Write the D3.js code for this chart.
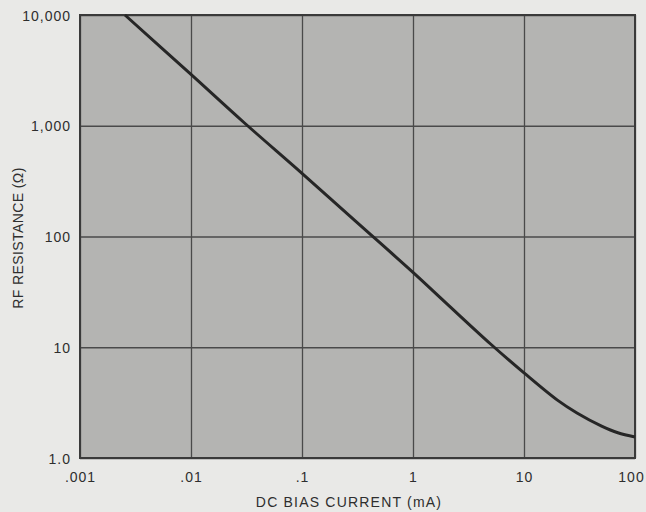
<!DOCTYPE html>
<html>
<head>
<meta charset="utf-8">
<script src="https://cdn.jsdelivr.net/npm/d3@7/dist/d3.min.js"></script>
<style>
  html, body { margin: 0; padding: 0; background: #e9e9e7; }
  svg { display: block; }
  text { font-family: "Liberation Sans", Arial, Helvetica, sans-serif; fill: #2e2e2e; }
</style>
</head>
<body>
<svg id="chart" width="646" height="512"></svg>
<script>
// Data (DC bias current in mA, RF resistance in ohms)
const currentMA = [0.00254, 0.01, 0.03, 0.1, 0.3, 1, 2, 5, 10, 20, 30, 50, 70, 100];
const resistance = [10000, 2910, 1070, 372, 139, 47.4, 24.9, 10.7, 5.87, 3.33, 2.55, 1.94, 1.69, 1.55];
const xTickValues = [0.001, 0.01, 0.1, 1, 10, 100];
const xTickLabels = [".001", ".01", ".1", "1", "10", "100"];
const yTickValues = [1, 10, 100, 1000, 10000];
const yTickLabels = ["1.0", "10", "100", "1,000", "10,000"];

(function () {
const svg = d3.select("#chart");
const pL = 80, pR = 635, pT = 15, pB = 458;

const x = d3.scaleLog().domain([0.001, 100]).range([pL, pR]);
const y = d3.scaleLog().domain([1, 10000]).range([pB, pT]);

// plot background
svg.append("rect")
  .attr("x", pL).attr("y", pT)
  .attr("width", pR - pL).attr("height", pB - pT)
  .attr("fill", "#b4b4b2");

// grid
const xGrid = d3.axisBottom(x).tickValues(xTickValues).tickSize(-(pB - pT)).tickFormat("");
const yGrid = d3.axisLeft(y).tickValues(yTickValues).tickSize(-(pR - pL)).tickFormat("");
svg.append("g").attr("transform", `translate(0,${pB})`).call(xGrid)
  .call(g => g.select(".domain").remove())
  .call(g => g.selectAll("line").attr("stroke", "#4a4a4a").attr("stroke-width", 1.3));
svg.append("g").attr("transform", `translate(${pL},0)`).call(yGrid)
  .call(g => g.select(".domain").remove())
  .call(g => g.selectAll("line").attr("stroke", "#4a4a4a").attr("stroke-width", 1.3));

// frame
svg.append("rect")
  .attr("x", pL).attr("y", pT)
  .attr("width", pR - pL).attr("height", pB - pT)
  .attr("fill", "none").attr("stroke", "#3a3a3a").attr("stroke-width", 2);

// curve
const data = currentMA.map((c, i) => ({ c, r: resistance[i] }));
const line = d3.line().x(d => x(d.c)).y(d => y(d.r)).curve(d3.curveCatmullRom.alpha(0.5));
svg.append("path").datum(data)
  .attr("d", line)
  .attr("fill", "none").attr("stroke", "#262626").attr("stroke-width", 3)
  .attr("stroke-linecap", "butt");

// x tick labels
const xAxis = d3.axisBottom(x).tickValues(xTickValues).tickSize(0).tickPadding(0)
  .tickFormat((d, i) => xTickLabels[i]);
svg.append("g").attr("transform", `translate(0,${pB})`).call(xAxis)
  .call(g => g.select(".domain").remove())
  .call(g => g.selectAll("text")
    .attr("y", 24).attr("dy", 0)
    .attr("dx", (d, i) => i === xTickValues.length - 1 ? -4 : 0)
    .style("font-size", "14px").style("letter-spacing", "1px").attr("fill", "#2e2e2e"));

// y tick labels
const yAxis = d3.axisLeft(y).tickValues(yTickValues).tickSize(0).tickPadding(0)
  .tickFormat((d, i) => yTickLabels[i]);
svg.append("g").attr("transform", `translate(${pL},0)`).call(yAxis)
  .call(g => g.select(".domain").remove())
  .call(g => g.selectAll("text")
    .attr("x", -9).attr("dy", "0.36em")
    .style("font-size", "14px").style("letter-spacing", "1px").attr("fill", "#2e2e2e"));

// axis titles
svg.append("text")
  .attr("x", 349).attr("y", 507)
  .attr("text-anchor", "middle")
  .style("font-size", "14px").style("letter-spacing", "1.2px")
  .text("DC BIAS CURRENT (mA)");

svg.append("text")
  .attr("transform", "translate(23,238) rotate(-90)")
  .attr("text-anchor", "middle")
  .style("font-size", "14px").style("letter-spacing", "0.4px")
  .text("RF RESISTANCE (Ω)");
})();
</script>
</body>
</html>
